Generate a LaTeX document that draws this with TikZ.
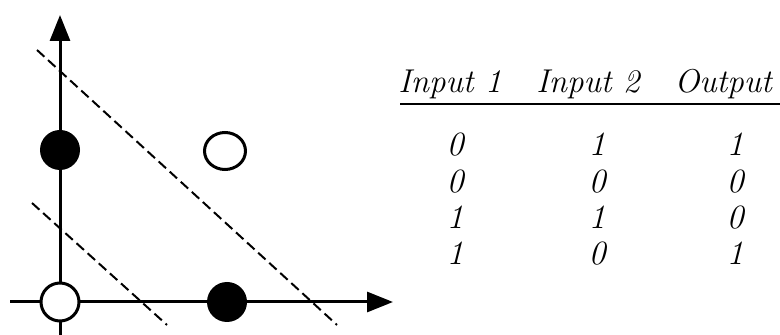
\documentclass[tikz,border=0pt]{standalone}
\usetikzlibrary{arrows.meta,shapes.geometric}
\begin{document}
\begin{tikzpicture}[x=0.5pt, y=-0.5pt,
    axis/.style={line width=1.5pt, -{Triangle[length=13pt, width=10pt]}},
    sepline/.style={line width=1pt, dash pattern=on 5pt off 2.5pt},
    ondot/.style={circle, fill=black, minimum size=20pt, inner sep=0pt},
    offdot/.style={circle, draw=black, fill=white, line width=1.5pt, minimum size=19pt, inner sep=0pt},
    hdr/.style={font=\fontsize{16.5}{19}\selectfont\itshape, anchor=base},
    cell/.style={font=\fontsize{17}{19}\selectfont\itshape, anchor=base}
]
\useasboundingbox (0,0) rectangle (780,335);

% Achsen
\coordinate (yb) at (60,335);
\coordinate (yt) at (60,15);
\coordinate (xl) at (10,302);
\coordinate (xr) at (393,302);
\draw[axis] (yb) -- (yt);
\draw[axis] (xl) -- (xr);

% Trennlinien
\coordinate (sa1) at (37,50);
\coordinate (sa2) at (337,325);
\coordinate (sb1) at (32,203);
\coordinate (sb2) at (167,325);
\draw[sepline] (sa1) -- (sa2);
\draw[sepline] (sb1) -- (sb2);

% Punkte
\node[ondot] (p01) at (60,150) {};
\node[offdot, ellipse, minimum width=20.5pt, minimum height=18.5pt] (p11) at (225,151) {};
\node[offdot] (p00) at (60,302) {};
\node[ondot] (p10) at (227,302) {};

% Tabelle
\node[hdr] (h1) at (450,93) {Input 1};
\node[hdr] (h2) at (588,93) {Input 2};
\node[hdr, anchor=base east] (h3) at (779,93) {Output};
\coordinate (rl) at (400,104);
\coordinate (rr) at (780,104);
\draw[line width=1pt] (rl) -- (rr);

\node[cell] (a1) at (455,156) {0};
\node[cell] (b1) at (597,156) {1};
\node[cell] (c1) at (735,156) {1};
\node[cell] (a2) at (455,193) {0};
\node[cell] (b2) at (597,193) {0};
\node[cell] (c2) at (735,193) {0};
\node[cell] (a3) at (455,229) {1};
\node[cell] (b3) at (597,229) {1};
\node[cell] (c3) at (735,229) {0};
\node[cell] (a4) at (455,265) {1};
\node[cell] (b4) at (597,265) {0};
\node[cell] (c4) at (735,265) {1};

\end{tikzpicture}
\end{document}
